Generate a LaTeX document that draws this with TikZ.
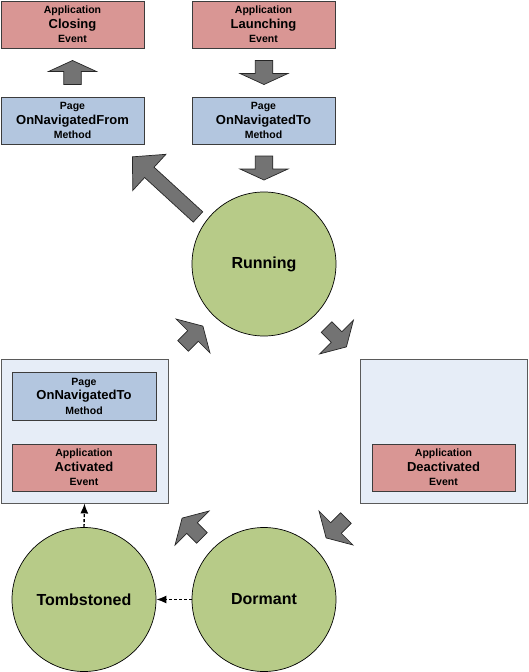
\documentclass[tikz,border=0pt]{standalone}
\usepackage{fontspec}
\setmainfont{Liberation Sans}
\usetikzlibrary{arrows.meta}
\definecolor{evtred}{HTML}{D99694}
\definecolor{methblue}{HTML}{B3C6DF}
\definecolor{contblue}{HTML}{E6EDF7}
\definecolor{stgreen}{HTML}{B7CB88}
\definecolor{arrgray}{HTML}{737373}
\definecolor{edgecol}{HTML}{3C3C3C}
\definecolor{contedge}{HTML}{5A5A5A}
\newcommand{\tripl}[3]{#1\\{\fontsize{13}{14.5}\selectfont #2}\\#3}
\newcommand{\blockarr}[7]{%
  \draw[blk, shift={(#1,#2)}, rotate=#3]
    (-#4/2,-#7) -- (#4/2-#5,-#7) -- (#4/2-#5,-#6) -- (#4/2,0) --
    (#4/2-#5,#6) -- (#4/2-#5,#7) -- (-#4/2,#7) -- cycle;}
\begin{document}
\begin{tikzpicture}[x=1pt,y=-1pt,
  box/.style={draw=edgecol, line width=0.9pt, minimum width=143pt, minimum height=47pt,
    inner sep=0pt, align=center, font=\fontsize{10.5}{14.5}\selectfont\bfseries},
  evt/.style={box, fill=evtred},
  meth/.style={box, fill=methblue},
  cont/.style={draw=contedge, fill=contblue, line width=0.9pt, minimum width=167pt,
    minimum height=144pt, inner sep=0pt},
  state/.style={circle, draw=black, fill=stgreen, line width=0.7pt, minimum size=144pt,
    inner sep=0pt, font=\fontsize{16}{19}\selectfont\bfseries},
  blk/.style={draw=black!85, fill=arrgray, line width=0.7pt, line join=miter},
  dsh/.style={dash pattern=on 3pt off 2pt, line width=1.4pt, -{Latex[length=10pt,width=8pt]}}
]
\useasboundingbox (0,0) rectangle (528,672);

\node[evt] (closing) at (72.5,24.5) {\tripl{Application}{Closing}{Event}};
\node[evt] (launching) at (263.5,24.5) {\tripl{Application}{Launching}{Event}};
\node[meth] (fromnav) at (72.5,120.5) {\tripl{Page}{OnNavigatedFrom}{Method}};
\node[meth] (tonav) at (263.5,120.5) {\tripl{Page}{OnNavigatedTo}{Method}};
\node[state] (running) at (264,264) {Running};

\node[cont] (leftc) at (84.5,431) {};
\node[meth, minimum width=144pt, minimum height=48pt] (tonavb) at (84,396) {\tripl{Page}{OnNavigatedTo}{Method}};
\node[evt, minimum width=144pt] (activated) at (84,467.5) {\tripl{Application}{Activated}{Event}};

\node[cont] (rightc) at (443.5,431) {};
\node[evt] (deact) at (443.5,467.5) {\tripl{Application}{Deactivated}{Event}};

\node[state] (tomb) at (84,599.5) {Tombstoned};
\node[state] (dorm) at (264,599.5) {Dormant};

% block arrows: x, y, angle, length, head length, head half-width, shaft half-width
\blockarr{72.5}{72.5}{90}{24}{11}{24}{8.75}
\blockarr{264}{72.5}{-90}{24}{11}{24}{8.75}
\blockarr{264}{168}{-90}{24}{11}{24}{8.75}
\blockarr{165.2}{186.9}{137.5}{89}{23}{24.5}{7}
\blockarr{193}{336}{45}{28}{14}{24}{7.5}
\blockarr{336.5}{337}{-45}{28}{14}{24}{7.5}
\blockarr{192}{528}{135}{28}{14}{24}{7.5}
\blockarr{336}{528}{-135}{28}{14}{24}{7.5}

\draw[dsh] (tomb.north) -- (leftc.south);
\draw[dsh] (dorm.west) -- (tomb.east);
\end{tikzpicture}
\end{document}
